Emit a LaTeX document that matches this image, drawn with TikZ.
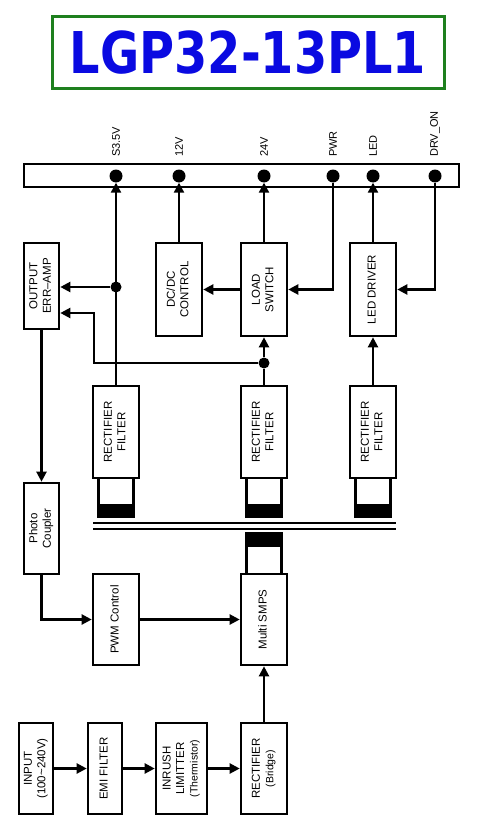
\documentclass[tikz,border=0pt]{standalone}
\usepackage{fontspec}
\setmainfont{Liberation Sans}
\newfontfamily\titlefont{DejaVu Sans}
\usepackage{graphicx}
\usetikzlibrary{arrows.meta}
\definecolor{titleGreen}{RGB}{30,128,30}
\definecolor{titleBlue}{RGB}{10,10,225}
\newcommand{\vtext}[1]{\rotatebox{90}{\begin{tabular}{@{}c@{}}#1\end{tabular}}}
\newcommand{\smalltxt}[1]{{\fontsize{10.5}{12}\selectfont #1}}

\begin{document}
\begin{tikzpicture}[x=1pt,y=-1pt,>={Triangle[length=10pt,width=10pt]},
  blk/.style={draw,line width=2.6pt,inner sep=0pt,font=\fontsize{11.5}{13.5}\selectfont},
  dot/.style={circle,fill,inner sep=0pt,minimum size=13pt},
  jdot/.style={circle,fill,inner sep=0pt,minimum size=11pt},
  sig/.style={line width=2.2pt},
  pinlbl/.style={rotate=90,anchor=west,inner sep=0pt,font=\fontsize{11}{13}\selectfont}]
  \useasboundingbox (0,0) rectangle (487,832);
  % title
  \node (title) [draw=titleGreen,line width=3pt,minimum width=392pt,minimum height=72pt] at (248,53)
    {\scalebox{0.83}[1]{\titlefont\bfseries\fontsize{57.6}{60}\selectfont\color{titleBlue}LGP32-13PL1}};
  % connector bar
  \node (bus) [draw,line width=2.6pt,minimum width=435pt,minimum height=23pt,inner sep=0pt] at (241.5,175.5) {};
  \foreach \x/\n/\t in {116/s35/S3.5V,179/v12/12V,264/v24/24V,333/pwr/PWR,373/led/LED,435/drvOn/DRV\_ON} {
    \node[dot] (\n) at (\x,176) {};
    \node[pinlbl] (\n-lbl) at (\x,157) {\t};
  }
  % secondary side
  \node[blk,minimum width=35pt,minimum height=86pt] (errAmp) at (41.5,286) {\vtext{OUTPUT\\ERR--AMP}};
  \node[blk,minimum width=46pt,minimum height=93pt] (dcdc) at (179,289.5) {\vtext{DC/DC\\CONTROL}};
  \node[blk,minimum width=46pt,minimum height=93pt] (loadSw) at (264,289.5) {\vtext{LOAD\\SWITCH}};
  \node[blk,minimum width=46pt,minimum height=93pt] (ledDrv) at (373,289.5) {\vtext{LED DRIVER}};
  \foreach \x in {116,264,373} {
    \draw[line width=2.2pt,fill=white] (\x-17.5,478) rectangle (\x+17.5,517);
    \fill (\x-17.5,504) rectangle (\x+17.5,517);
  }
  \node[blk,minimum width=46pt,minimum height=92pt] (rect1) at (116,432) {\vtext{RECTIFIER\\FILTER}};
  \node[blk,minimum width=46pt,minimum height=92pt] (rect2) at (264,432) {\vtext{RECTIFIER\\FILTER}};
  \node[blk,minimum width=46pt,minimum height=92pt] (rect3) at (373,432) {\vtext{RECTIFIER\\FILTER}};
  % transformer
  \draw[line width=2.2pt] (93,523) -- (396,523) (93,529) -- (396,529);
  \draw[line width=2.2pt,fill=white] (246.5,533) rectangle (281.5,574);
  \fill (246.5,533) rectangle (281.5,547);
  % primary side
  \node[blk,minimum width=35pt,minimum height=91pt] (photo) at (41.5,528.5) {\vtext{Photo\\Coupler}};
  \node[blk,minimum width=46pt,minimum height=91pt] (pwm) at (116,619.5) {\vtext{PWM Control}};
  \node[blk,minimum width=46pt,minimum height=91pt] (smps) at (264,619.5) {\vtext{Multi SMPS}};
  \node[blk,minimum width=34pt,minimum height=91pt] (input) at (36,768.5) {\vtext{INPUT\\(100\textasciitilde240V)}};
  \node[blk,minimum width=34pt,minimum height=91pt] (emi) at (105,768.5) {\vtext{EMI FILTER}};
  \node[blk,minimum width=51pt,minimum height=91pt] (inrush) at (181.5,768.5) {\vtext{INRUSH\\LIMITTER\\\smalltxt{(Thermistor)}}};
  \node[blk,minimum width=46pt,minimum height=91pt] (bridge) at (264,768.5) {\vtext{RECTIFIER\\\smalltxt{(Bridge)}}};
  % connectors
  \node[jdot] (j1) at (116,287) {};
  \node[jdot] (j2) at (264,363) {};
  \coordinate (fb) at (94,313);
  \draw[sig,->] (rect1) -- (s35);
  \draw[sig,->] (j1) -- (j1 -| errAmp.east);
  \draw[sig,->] (dcdc) -- (v12);
  \draw[sig,->] (loadSw) -- (v24);
  \draw[sig,->] (pwr) |- (loadSw.east);
  \draw[sig,->] (ledDrv) -- (led);
  \draw[sig,->] (drvOn) |- (ledDrv.east);
  \draw[sig,->] (loadSw) -- (dcdc);
  \draw[sig] (rect2) -- (j2);
  \draw[sig,->] (j2) -- (loadSw);
  \draw[sig,->] (j2) -| (fb) -- (fb -| errAmp.east);
  \draw[sig,->] (rect3) -- (ledDrv);
  \draw[sig,->] (errAmp) -- (photo);
  \draw[sig,->] (photo) |- (pwm.west);
  \draw[sig,->] (pwm) -- (smps);
  \draw[sig,->] (bridge) -- (smps);
  \draw[sig,->] (input) -- (emi);
  \draw[sig,->] (emi) -- (inrush);
  \draw[sig,->] (inrush) -- (bridge);
\end{tikzpicture}
\end{document}
